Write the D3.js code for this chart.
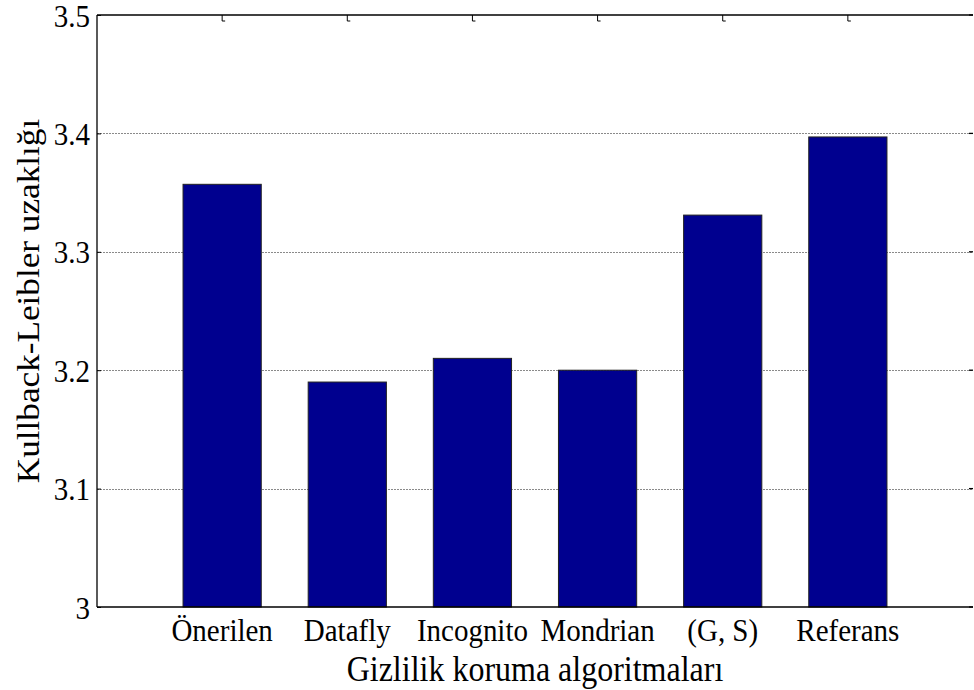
<!DOCTYPE html>
<html>
<head>
<meta charset="utf-8">
<script src="https://cdn.jsdelivr.net/npm/d3@7"></script>
<style>
  html, body { margin: 0; padding: 0; background: #fff; }
  text { font-family: "Liberation Serif", "Times New Roman", serif; fill: #000; }
</style>
</head>
<body>
<svg id="chart" width="974" height="690"></svg>
<script>
// Algorithms compared and their Kullback-Leibler distance
const categories = ["Önerilen", "Datafly", "Incognito", "Mondrian", "(G, S)", "Referans"];
const klValues = [3.357, 3.19, 3.21, 3.20, 3.331, 3.397];
const yTicks = [3, 3.1, 3.2, 3.3, 3.4, 3.5];
const yTickLabels = ["3", "3.1", "3.2", "3.3", "3.4", "3.5"];
const xTitle = "Gizlilik koruma algoritmaları";
const yTitle = "Kullback-Leibler uzaklığı";

const svg = d3.select("#chart");
const plotL = 97, plotR = 973, plotT = 15, plotB = 607;

// Categories sit at 1..6 on a 0..7 axis
const x = d3.scaleLinear().domain([0, categories.length + 1]).range([plotL, plotR]);
const y = d3.scaleLinear().domain([3, 3.5]).range([plotB, plotT]);
const barW = (x(1) - x(0)) * 0.625;

// dotted grid lines
svg.append("g").selectAll("line")
  .data(yTicks.filter(t => t > 3 && t < 3.5))
  .join("line")
  .attr("x1", plotL).attr("x2", plotR)
  .attr("y1", d => Math.round(y(d)) + 0.5).attr("y2", d => Math.round(y(d)) + 0.5)
  .attr("stroke", "#8a8a8a").attr("stroke-width", 1)
  .attr("stroke-dasharray", "2,1");

// bars
svg.append("g").selectAll("rect")
  .data(klValues)
  .join("rect")
  .attr("x", (d, i) => x(i + 1) - barW / 2)
  .attr("width", barW)
  .attr("y", d => y(d))
  .attr("height", d => y(3) - y(d))
  .attr("fill", "#00008f")
  .attr("stroke", "#222").attr("stroke-width", 1);

// axes frame (left, bottom, top)
const frame = svg.append("g").attr("stroke", "#000").attr("stroke-width", 1.3).attr("fill", "none");
frame.append("line").attr("x1", plotL).attr("x2", plotL).attr("y1", plotT).attr("y2", plotB);
frame.append("line").attr("x1", plotL).attr("x2", plotR).attr("y1", plotB).attr("y2", plotB);
frame.append("line").attr("x1", plotL).attr("x2", plotR).attr("y1", plotT).attr("y2", plotT);

// y ticks on left (inward) with labels
const yAxis = svg.append("g").attr("transform", `translate(${plotL},0)`)
  .call(d3.axisLeft(y).tickValues(yTicks).tickFormat(() => "").tickSize(-4));
yAxis.select(".domain").remove();
yAxis.selectAll("line").attr("stroke", "#000");
yAxis.selectAll(".tick").append("text")
  .attr("transform", "translate(-7,0) scale(1,1.1)")
  .attr("text-anchor", "end")
  .attr("dy", "0.35em")
  .attr("font-size", 29)
  .attr("fill", "#000")
  .attr("font-family", "Liberation Serif, serif")
  .text((d, i) => yTickLabels[i]);

// right-edge ticks
svg.append("g").selectAll("line")
  .data(yTicks)
  .join("line")
  .attr("x1", plotR - 4).attr("x2", plotR)
  .attr("y1", d => y(d)).attr("y2", d => y(d))
  .attr("stroke", "#000").attr("stroke-width", 1.3);

// top ticks at category positions
svg.append("g").selectAll("path")
  .data(categories)
  .join("path")
  .attr("d", (d, i) => `M${x(i + 1)},${plotT}v6h3`)
  .attr("stroke", "#000").attr("fill", "none").attr("stroke-width", 1);

// x tick labels
const xLab = svg.append("g");
categories.forEach((c, i) => {
  xLab.append("text")
    .attr("transform", `translate(${x(i + 1)},641) scale(1,1.1)`)
    .attr("text-anchor", "middle")
    .attr("font-size", 29)
    .text(c);
});

// axis titles
svg.append("text")
  .attr("transform", `translate(${(plotL + plotR) / 2},681) scale(1,1.1)`)
  .attr("text-anchor", "middle")
  .attr("font-size", 32)
  .text(xTitle);

svg.append("text")
  .attr("transform", `translate(39,301) rotate(-90) scale(1.1,1)`)
  .attr("text-anchor", "middle")
  .attr("font-size", 32)
  .text(yTitle);
</script>
</body>
</html>
